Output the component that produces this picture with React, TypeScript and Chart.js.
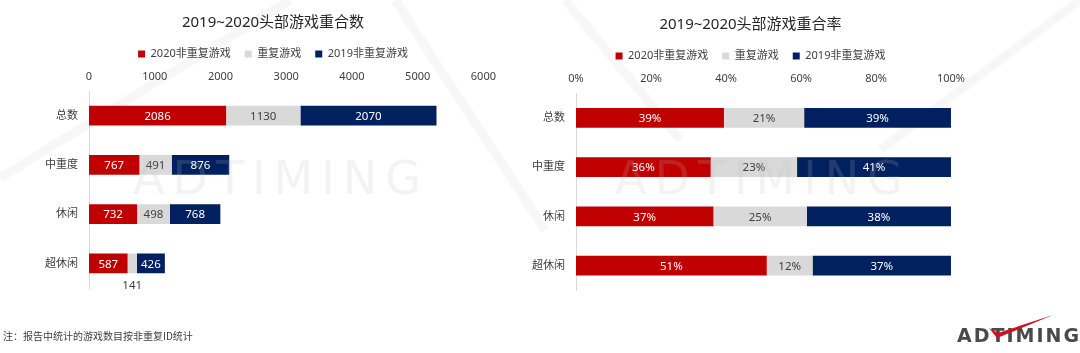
import React, { useEffect, useRef } from 'react';
import { Chart, registerables } from 'chart.js';

Chart.register(...registerables);

// ---------- data ----------
const categories = ['总数', '中重度', '休闲', '超休闲'];
const seriesNames = ['2020非重复游戏', '重复游戏', '2019非重复游戏'];

const new2020Counts = [2086, 767, 732, 587];
const repeatCounts = [1130, 491, 498, 141];
const old2019Counts = [2070, 876, 768, 426];

const new2020Share = [39.46, 35.94, 36.64, 50.87];
const repeatShare = [21.38, 23.01, 24.92, 12.22];
const old2019Share = [39.16, 41.05, 38.44, 36.92];

const countAxisTicks = [0, 1000, 2000, 3000, 4000, 5000, 6000];
const shareAxisTicks = [0, 20, 40, 60, 80, 100];

const leftTitle = '2019~2020头部游戏重合数';
const rightTitle = '2019~2020头部游戏重合率';
const footnote = '注：报告中统计的游戏数目按非重复ID统计';

// ---------- styles ----------
const seriesColors = ['#C00000', '#D9D9D9', '#002060'];
const labelColors = ['#FFFFFF', '#404040', '#FFFFFF'];
const FONT = '"Noto Sans", "Noto Sans CJK SC", sans-serif';
const TEXT = '#404040';

const barLabels = {
  id: 'barLabels',
  afterDatasetsDraw(chart: any, _args: any, opts: any) {
    const ctx = chart.ctx;
    ctx.save();
    ctx.font = `11.5px ${FONT}`;
    ctx.textAlign = 'center';
    ctx.textBaseline = 'middle';
    chart.data.datasets.forEach((ds: any, di: number) => {
      const meta = chart.getDatasetMeta(di);
      meta.data.forEach((bar: any, i: number) => {
        const v = ds.data[i] as number;
        const text = opts.format(v);
        const w = ctx.measureText(text).width;
        const l = Math.min(bar.x, bar.base);
        const r = Math.max(bar.x, bar.base);
        const cx = (l + r) / 2;
        if (r - l < w + 4) {
          ctx.fillStyle = TEXT;
          ctx.fillText(text, cx, bar.y + 22);
        } else {
          ctx.fillStyle = labelColors[di];
          ctx.fillText(text, cx, bar.y + 1);
        }
      });
    });
    ctx.restore();
  },
};

type PanelProps = {
  left: number;
  width: number;
  title: string;
  series: number[][];
  ticks: number[];
  tickFmt: (v: number) => string;
  labelFmt: (v: number) => string;
  padding: { left: number; right: number; top: number; bottom: number };
  yWidth: number;
  xHeight: number;
};

const noClip = (s: any) => {
  s._computeLabelArea = () => undefined;
};

function BarPanel(p: PanelProps) {
  const ref = useRef<HTMLCanvasElement | null>(null);
  useEffect(() => {
    if (!ref.current) return;
    const chart = new Chart(ref.current, {
      type: 'bar',
      data: {
        labels: categories,
        datasets: p.series.map((d, i) => ({
          label: seriesNames[i],
          data: d,
          backgroundColor: seriesColors[i],
          borderWidth: 0,
          barPercentage: 0.4,
          categoryPercentage: 1,
        })),
      },
      options: {
        indexAxis: 'y',
        responsive: false,
        animation: false,
        layout: { padding: p.padding },
        scales: {
          x: {
            position: 'top',
            stacked: true,
            min: p.ticks[0],
            max: p.ticks[p.ticks.length - 1],
            afterBuildTicks: (s: any) => {
              s.ticks = p.ticks.map((v) => ({ value: v }));
            },
            ticks: {
              callback: (v: any) => p.tickFmt(Number(v)),
              color: TEXT,
              font: { size: 11, family: FONT },
              padding: 8,
              maxRotation: 0,
              autoSkip: false,
            },
            grid: { display: false, drawTicks: false },
            border: { display: false },
            afterFit: (s: any) => {
              s.height = p.xHeight;
              noClip(s);
            },
          },
          y: {
            stacked: true,
            ticks: { color: TEXT, font: { size: 11, family: FONT }, padding: 11 },
            grid: { display: false, drawTicks: false },
            border: { display: true, color: '#D9D9D9', width: 1 },
            afterFit: (s: any) => {
              s.width = p.yWidth;
              noClip(s);
            },
          },
        },
        plugins: {
          title: {
            display: true,
            text: p.title,
            color: '#262626',
            font: { size: 15, family: FONT, weight: 'normal' },
            padding: { top: 14, bottom: 2.5 },
          },
          legend: {
            display: true,
            labels: {
              boxWidth: 7,
              boxHeight: 7,
              padding: 14,
              color: TEXT,
              font: { size: 11, family: FONT },
            },
          },
          tooltip: { enabled: false },
          barLabels: { format: p.labelFmt },
        } as any,
      },
      plugins: [barLabels],
    } as any);
    return () => chart.destroy();
  }, []);
  return (
    <canvas
      ref={ref}
      width={p.width}
      height={353}
      style={{ position: 'absolute', left: p.left, top: 0, width: p.width, height: 353 }}
    />
  );
}

export default function App() {
  const wm: React.CSSProperties = {
    position: 'absolute',
    top: 155,
    fontFamily: '"DejaVu Sans", sans-serif',
    fontSize: 46,
    lineHeight: '46px',
    letterSpacing: 8,
    color: 'rgba(190,190,190,0.18)',
    whiteSpace: 'nowrap',
    pointerEvents: 'none',
  };
  return (
    <div
      style={{
        position: 'absolute',
        left: 0,
        top: 0,
        width: 1080,
        height: 353,
        background: '#ffffff',
        overflow: 'hidden',
      }}
    >
      <svg width={1080} height={353} style={{ position: 'absolute', left: 0, top: 0 }}>
        <g stroke="#f7f7f7" strokeWidth={9} fill="none">
          <line x1={395} y1={0} x2={545} y2={230} />
          <line x1={0} y1={178} x2={290} y2={0} />
          <line x1={565} y1={0} x2={680} y2={140} />
          <line x1={1080} y1={0} x2={880} y2={150} />
        </g>
      </svg>
      <BarPanel
        left={0}
        width={504}
        title={leftTitle}
        series={[new2020Counts, repeatCounts, old2019Counts]}
        ticks={countAxisTicks}
        tickFmt={(v) => String(v)}
        labelFmt={(v) => String(v)}
        padding={{ left: 59, right: 17, top: 0, bottom: 65 }}
        yWidth={30}
        xHeight={21.6}
      />
      <BarPanel
        left={520}
        width={453}
        title={rightTitle}
        series={[new2020Share, repeatShare, old2019Share]}
        ticks={shareAxisTicks}
        tickFmt={(v) => v + '%'}
        labelFmt={(v) => Math.round(v) + '%'}
        padding={{ left: 28, right: 20, top: 2, bottom: 62.6 }}
        yWidth={28}
        xHeight={21.6}
      />
      <div style={{ ...wm, left: 133 }}>ADTIMING</div>
      <div style={{ ...wm, left: 615 }}>ADTIMING</div>
      <div
        style={{
          position: 'absolute',
          left: 3,
          top: 329,
          fontFamily: '"Noto Sans CJK SC", sans-serif',
          fontSize: 10,
          lineHeight: '14px',
          color: TEXT,
          whiteSpace: 'nowrap',
        }}
      >
        {footnote}
      </div>
      <div
        style={{
          position: 'absolute',
          left: 957,
          top: 326,
          fontFamily: '"DejaVu Sans", sans-serif',
          fontWeight: 'bold',
          fontSize: 19,
          lineHeight: '19px',
          letterSpacing: 2,
          color: '#4a4a4a',
          whiteSpace: 'nowrap',
        }}
      >
        ADTIMING
      </div>
      <svg width={1080} height={353} style={{ position: 'absolute', left: 0, top: 0, pointerEvents: 'none' }}>
        <path d="M 989 328 L 997 338 L 1053 315 L 998 333 Z" fill="#d0101e" />
      </svg>
    </div>
  );
}
